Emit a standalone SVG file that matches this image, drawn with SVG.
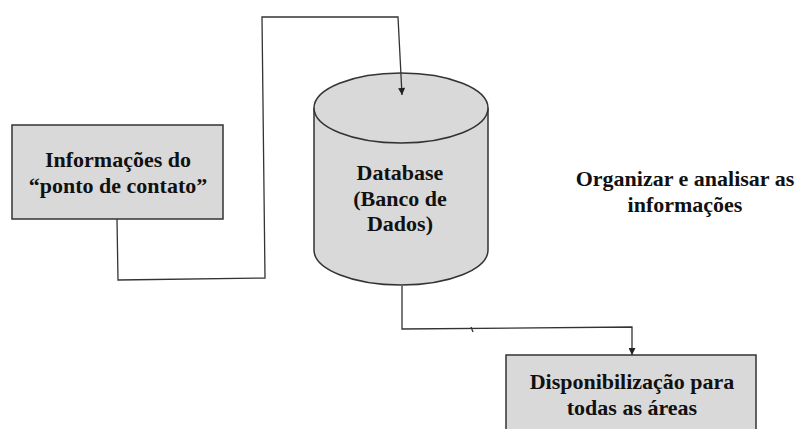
<svg xmlns="http://www.w3.org/2000/svg" width="797" height="429" viewBox="0 0 797 429">
  <style>
    .box { fill: #d9d9d9; stroke: #333; stroke-width: 1.5; }
    .lbl { font-family: 'Liberation Serif', 'DejaVu Serif', serif; font-weight: 700; font-size: 22px; fill: #111; text-anchor: middle; }
    .wire { fill: none; stroke: #333; stroke-width: 1.3; }
  </style>
  <defs>
    <marker id="arrow" viewBox="0 0 10 10" refX="10" refY="5" markerWidth="9" markerHeight="7" markerUnits="userSpaceOnUse" orient="auto">
      <path d="M0,0 L10,5 L0,10 Z" fill="#222"/>
    </marker>
  </defs>
  <rect width="797" height="429" fill="#fff"/>

  <!-- source box -->
  <g id="node-contato">
    <rect class="box" x="12" y="125" width="211" height="94"/>
    <text class="lbl" x="118" y="167">Informações do</text>
    <text class="lbl" x="118" y="193">“ponto de contato”</text>
  </g>

  <!-- database cylinder -->
  <g id="node-database">
    <path class="box" d="M314,108 L314,250 A87,35 0 0 0 488,250 L488,108"/>
    <ellipse class="box" cx="401" cy="108" rx="87" ry="35"/>
    <text class="lbl" x="400" y="180">Database</text>
    <text class="lbl" x="400" y="206">(Banco de</text>
    <text class="lbl" x="400" y="231">Dados)</text>
  </g>

  <!-- free label -->
  <g id="node-organizar">
    <text class="lbl" x="685" y="186">Organizar e analisar as</text>
    <text class="lbl" x="685" y="212">informações</text>
  </g>

  <!-- target box -->
  <g id="node-disponibilizacao">
    <rect class="box" x="506" y="355" width="250" height="90"/>
    <text class="lbl" x="632" y="389">Disponibilização para</text>
    <text class="lbl" x="632" y="415">todas as áreas</text>
  </g>

  <!-- connectors, drawn last so the arrowheads sit on top -->
  <g id="connectors">
    <path class="wire" d="M117,219 L118,280 L265,278 L262,17 L398,17 L402,95" marker-end="url(#arrow)"/>
    <path class="wire" d="M402,286 L402,329 L632,327 L632,355" marker-end="url(#arrow)"/>
    <path class="wire" d="M471,327 L473,332"/>
  </g>
</svg>
